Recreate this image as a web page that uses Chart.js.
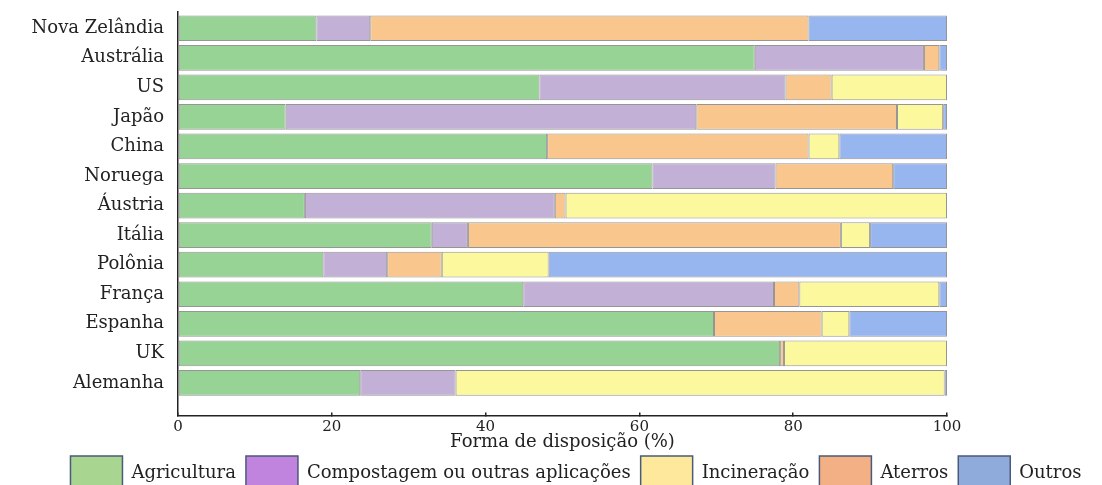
<!DOCTYPE html>
<html>
<head>
<meta charset="utf-8">
<script src="https://cdn.jsdelivr.net/npm/chart.js@4.4.1/dist/chart.umd.min.js"></script>
<style>
  html, body { margin: 0; padding: 0; background: #ffffff; }
  #wrap { width: 1102px; height: 485px; position: relative; }
</style>
</head>
<body>
<div id="wrap"><canvas id="c" width="1102" height="485"></canvas></div>
<script>
// Categories (top to bottom)
const countries = ["Nova Zelândia", "Austrália", "US", "Japão", "China", "Noruega", "Áustria", "Itália", "Polônia", "França", "Espanha", "UK", "Alemanha"];
// Series values (%), stacked in the order drawn in the bars
const agricultura = [18, 75, 47, 14, 48, 61.7, 16.5, 33, 18.9, 44.9, 69.7, 78.3, 23.7];
const compostagem = [7, 22, 32, 53.4, 0, 16, 32.5, 4.7, 8.3, 32.6, 0, 0, 12.4];
const aterros     = [57, 2, 6, 26.1, 34, 15.3, 1.4, 48.5, 7.1, 3.3, 14, 0.5, 0];
const incineracao = [0, 0, 15, 6, 4, 0, 49.6, 3.8, 13.9, 18.2, 3.6, 21.2, 63.6];
const outros      = [18, 1, 0, 0.5, 14, 7, 0, 10, 51.8, 1, 12.7, 0, 0.3];
// Axis ticks
const xTicks = [0, 20, 40, 60, 80, 100];
const xTitle = "Forma de disposição (%)";
// Legend (order shown in the legend)
const legendNames = ["Agricultura", "Compostagem ou outras aplicações", "Incineração", "Aterros", "Outros"];

const barColors = {
  "Agricultura": "#98d396",
  "Compostagem ou outras aplicações": "#c2b0d6",
  "Aterros": "#f9c78d",
  "Incineração": "#fbf89e",
  "Outros": "#97b6f0"
};
const legendColors = {
  "Agricultura": "#a8d590",
  "Compostagem ou outras aplicações": "#c184de",
  "Incineração": "#fde89b",
  "Aterros": "#f2b084",
  "Outros": "#8eabdc"
};

const seriesList = [
  ["Agricultura", agricultura],
  ["Compostagem ou outras aplicações", compostagem],
  ["Aterros", aterros],
  ["Incineração", incineracao],
  ["Outros", outros]
];

const datasets = seriesList.map(([name, vals]) => ({
  label: name,
  data: vals.map((v, i) => ({ x: v, y: i })),
  backgroundColor: barColors[name],
  borderColor: "#959595",
  borderWidth: 1,
  borderSkipped: false,
  barPercentage: 0.87,
  categoryPercentage: 1.0
}));

const serif = "'DejaVu Serif', 'Liberation Serif', serif";
const PAD_LEFT = 20;
const PAD_RIGHT = -30;
const AREA_LEFT = 178;
const AREA_RIGHT = 947;

new Chart(document.getElementById("c"), {
  type: "bar",
  data: { datasets },
  options: {
    responsive: false,
    animation: false,
    indexAxis: "y",
    layout: { padding: { left: PAD_LEFT, right: PAD_RIGHT, top: 12, bottom: -15 } },
    scales: {
      x: {
        type: "linear",
        stacked: true,
        min: 0, max: 100,
        afterBuildTicks: (s) => { s.ticks = xTicks.map(v => ({ value: v })); },
        grid: { drawOnChartArea: false, drawTicks: true, tickLength: -3, color: "#222", lineWidth: 1.5 },
        border: { display: true, color: "#222", width: 1.5 },
        ticks: { color: "#222", font: { family: serif, size: 15 }, padding: 6 },
        title: { display: true, text: xTitle, color: "#222", font: { family: serif, size: 18 }, padding: { top: -11, bottom: -7 } }
      },
      y: {
        type: "linear",
        stacked: true,
        reverse: true,
        offset: false,
        min: -0.55, max: 13.1,
        afterBuildTicks: (s) => { s.ticks = countries.map((c, i) => ({ value: i })); },
        afterFit: (s) => { s.width = AREA_LEFT - PAD_LEFT; s.paddingTop = 0; s.paddingBottom = 0; },
        grid: { display: false, drawTicks: false, offset: false },
        border: { display: true, color: "#222", width: 1.5 },
        ticks: {
          color: "#222",
          font: { family: serif, size: 18 },
          padding: 14,
          autoSkip: false,
          callback: (v) => countries[v] ?? ""
        }
      },
      yR: {
        type: "linear",
        position: "right",
        display: true,
        offset: false,
        grid: { display: false, drawTicks: false },
        border: { display: false },
        ticks: { display: false },
        afterFit: (s) => { s.width = 1102 - PAD_RIGHT - AREA_RIGHT; s.paddingTop = 0; s.paddingBottom = 0; }
      }
    },
    plugins: {
      tooltip: { enabled: false },
      legend: {
        position: "bottom",
        labels: {
          boxWidth: 52,
          boxHeight: 34,
          padding: 10,
          color: "#222",
          font: { family: serif, size: 18 },
          generateLabels: () => legendNames.map((n) => ({
            text: n,
            fillStyle: legendColors[n],
            strokeStyle: "#4a5a7a",
            lineWidth: 1.5,
            hidden: false,
            fontColor: "#222"
          }))
        }
      }
    }
  }
});
</script>
</body>
</html>
